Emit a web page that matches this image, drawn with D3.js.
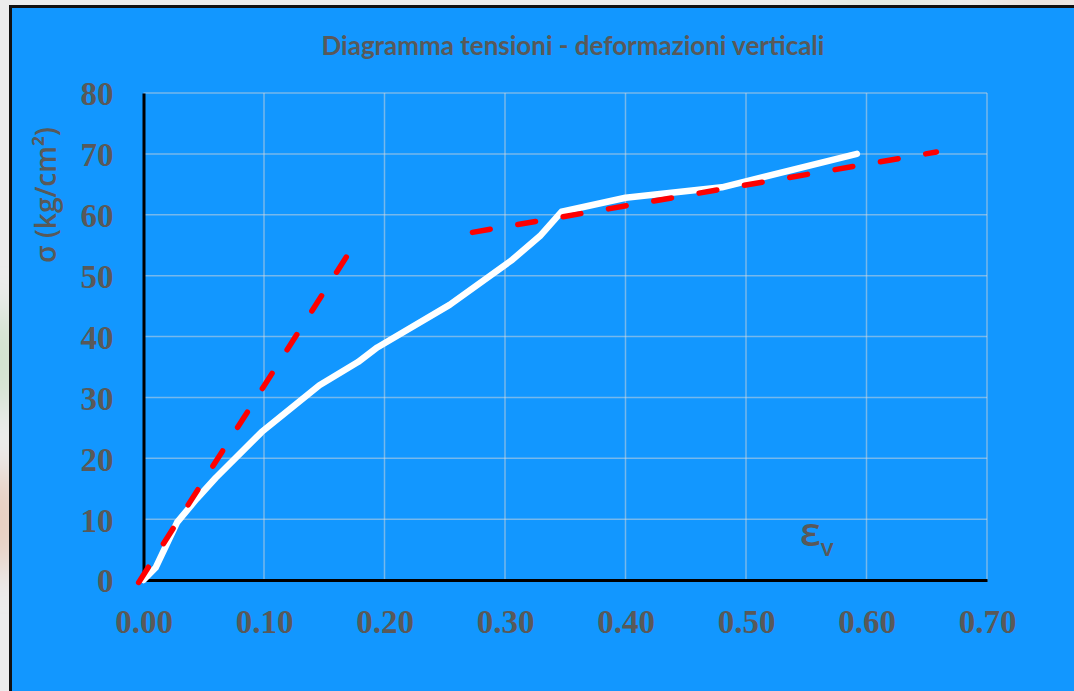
<!DOCTYPE html>
<html>
<head>
<meta charset="utf-8">
<script src="https://cdn.jsdelivr.net/npm/d3@7/dist/d3.min.js"></script>
<style>
  html, body { margin: 0; padding: 0; background: #ececec; overflow: hidden; }
  svg { display: block; }
</style>
</head>
<body>
<svg id="chart" width="1074" height="691"></svg>
<script>
// Stress–strain curve (vertical deformation εv vs. stress σ)
const strain = [0, 0.010, 0.028, 0.044, 0.060, 0.098, 0.146, 0.178, 0.194, 0.254, 0.306, 0.329, 0.347, 0.400, 0.480, 0.592];
const stress = [0, 2.0, 9.5, 13.3, 16.8, 24.3, 32.0, 35.8, 38.2, 45.2, 52.6, 56.5, 60.5, 62.8, 64.5, 70.0];

// Tangent lines: initial stiffness and post-yield branch
const tangentInitialStrain = [-0.004, 0.172];
const tangentInitialStress = [-0.4, 54.2];
const tangentFinalStrain = [0.273, 0.658];
const tangentFinalStress = [57.1, 70.3];

const xTicks = [0, 0.1, 0.2, 0.3, 0.4, 0.5, 0.6, 0.7];
const yTicks = [0, 10, 20, 30, 40, 50, 60, 70, 80];

const title = "Diagramma tensioni - deformazioni verticali";
const yLabel = "σ (kg/cm²)";

const svg = d3.select("#chart");
const W = 1074, H = 691;
const textColor = "#595959";

// soft background tints around the panel
const defs = svg.append("defs");
defs.append("filter").attr("id", "soft").attr("x", "-50%").attr("y", "-50%").attr("width", "200%").attr("height", "200%")
  .append("feGaussianBlur").attr("stdDeviation", 18);
const bg = svg.append("g").attr("filter", "url(#soft)");
bg.append("ellipse").attr("cx", 0).attr("cy", 360).attr("rx", 20).attr("ry", 55).attr("fill", "#c9dfc6");
bg.append("ellipse").attr("cx", 0).attr("cy", 520).attr("rx", 20).attr("ry", 55).attr("fill", "#e6c5b2");
bg.append("ellipse").attr("cx", 880).attr("cy", 0).attr("rx", 60).attr("ry", 8).attr("fill", "#d3e6cf");
bg.append("ellipse").attr("cx", 1040).attr("cy", 0).attr("rx", 50).attr("ry", 8).attr("fill", "#ecd3c4");

// chart panel with dark border
svg.append("rect")
  .attr("x", 10.5).attr("y", 6.5)
  .attr("width", W + 20).attr("height", H + 20)
  .attr("fill", "#1297ff")
  .attr("stroke", "#111").attr("stroke-width", 3);

const margin = { left: 143.5, right: 987, top: 93, bottom: 580 };

const x = d3.scaleLinear().domain([0, 0.7]).range([margin.left, margin.right]);
const y = d3.scaleLinear().domain([0, 80]).range([margin.bottom, margin.top]);

// grid
const grid = svg.append("g").attr("stroke", "rgba(217,217,217,0.5)").attr("stroke-width", 1.5);
grid.selectAll("line.v").data(xTicks.slice(1)).join("line")
  .attr("x1", d => x(d)).attr("x2", d => x(d))
  .attr("y1", y(0)).attr("y2", y(80));
grid.selectAll("line.h").data(yTicks.slice(1)).join("line")
  .attr("x1", x(0)).attr("x2", x(0.7))
  .attr("y1", d => y(d)).attr("y2", d => y(d));

// axes
const xAxis = d3.axisBottom(x).tickValues(xTicks).tickFormat(d3.format(".2f")).tickSize(0).tickPadding(30);
const yAxis = d3.axisLeft(y).tickValues(yTicks).tickFormat(d3.format("d")).tickSize(0).tickPadding(30);

const gx = svg.append("g").attr("transform", `translate(0,${y(0)})`).call(xAxis);
const gy = svg.append("g").attr("transform", `translate(${x(0)},0)`).call(yAxis);

[gx, gy].forEach(g => {
  g.select(".domain").attr("stroke", "#000").attr("stroke-width", 3);
  g.selectAll("text")
    .attr("fill", textColor)
    .style("font-family", "'Liberation Serif', 'Times New Roman', serif")
    .style("font-weight", "bold")
    .style("font-size", "33px");
});
gx.selectAll("text").attr("dy", null).attr("y", 53);
gy.selectAll("text").attr("dy", "0.36em").attr("x", -30);

// stress–strain curve
const pts = strain.map((e, i) => [e, stress[i]]);
const line = d3.line().x(d => x(d[0])).y(d => y(d[1]));
svg.append("path")
  .datum(pts)
  .attr("d", line)
  .attr("fill", "none")
  .attr("stroke", "#ffffff")
  .attr("stroke-width", 6.5)
  .attr("stroke-linejoin", "round")
  .attr("stroke-linecap", "round");

// dashed tangents
const tangents = [
  tangentInitialStrain.map((e, i) => [e, tangentInitialStress[i]]),
  tangentFinalStrain.map((e, i) => [e, tangentFinalStress[i]])
];
svg.selectAll("path.tangent").data(tangents).join("path")
  .attr("class", "tangent")
  .attr("d", line)
  .attr("fill", "none")
  .attr("stroke", "#ff0000")
  .attr("stroke-width", 5.5)
  .attr("stroke-linecap", "round")
  .attr("stroke-dasharray", "18,28");

// title
const t = svg.append("text")
  .attr("x", 573).attr("y", 55)
  .attr("text-anchor", "middle")
  .attr("fill", textColor)
  .style("font-family", "Lato, 'Open Sans', sans-serif")
  .style("font-weight", "bold")
  .style("font-size", "20px")
  .text(title);
const tl = t.node().getComputedTextLength();
t.style("font-size", (20 * 503 / tl).toFixed(2) + "px");

// y-axis title
const yl = svg.append("text")
  .attr("transform", "translate(56,195) rotate(-90)")
  .attr("text-anchor", "middle")
  .attr("fill", textColor)
  .style("font-family", "'Open Sans', sans-serif")
  .style("font-weight", "600")
  .style("font-size", "22px")
  .text(yLabel);
const yll = yl.node().getComputedTextLength();
yl.style("font-size", (22 * 136 / yll).toFixed(2) + "px");

// x-axis title εv
const xl = svg.append("text")
  .attr("x", 800).attr("y", 546)
  .attr("fill", textColor)
  .style("font-family", "'Open Sans', sans-serif")
  .style("font-weight", "600");
xl.append("tspan").style("font-size", "40px").text("ε");
xl.append("tspan").style("font-size", "24px").attr("dy", 10).text("v");
</script>
</body>
</html>
